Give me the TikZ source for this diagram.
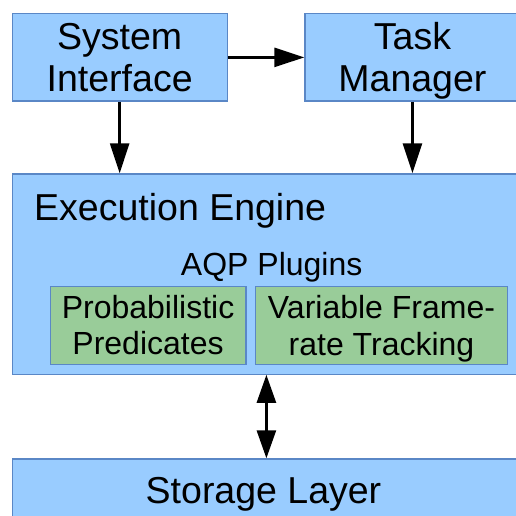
\documentclass[tikz,border=0pt]{standalone}
\usepackage{fontspec}
\setmainfont{Liberation Sans}
\usetikzlibrary{arrows.meta}
\definecolor{boxblue}{HTML}{99CCFF}
\definecolor{boxgreen}{HTML}{99CC99}
\definecolor{edgeblue}{HTML}{5A87C6}
\begin{document}
\begin{tikzpicture}[x=1pt,y=-1pt,
  box/.style={draw=edgeblue, line width=1.3pt, fill=boxblue, inner sep=0pt, anchor=north west, align=center},
  plug/.style={box, fill=boxgreen},
  big/.style={font=\fontsize{37.5pt}{42pt}\selectfont},
  small/.style={font=\fontsize{32pt}{36.7pt}\selectfont},
  arr/.style={line width=2.7pt, -{Triangle[length=30pt,width=19pt]}},
  darr/.style={line width=2.7pt, {Triangle[length=28pt,width=19pt]}-{Triangle[length=28pt,width=19pt]}}]
\useasboundingbox (0,0) rectangle (516,516);
\clip (0,0) rectangle (516,516);
\fill[white] (0,0) rectangle (516,516);
\node[box,big,minimum width=215pt,minimum height=87.5pt] (si) at (11.5,13) {System\\Interface};
\node[box,big,minimum width=215pt,minimum height=87.5pt] (tm) at (304.3,13) {Task\\\smash{Manager}};
\node[box,minimum width=508.5pt,minimum height=200.2pt] (eng) at (11.5,173.3) {};
\node[big,anchor=base west,inner sep=0pt] (eet) at (34,220) {Execution Engine};
\node[small,anchor=base,inner sep=0pt] (aqp) at (271.7,275.5) {AQP Plugins};
\node[plug,small,minimum width=195.8pt,minimum height=78pt] (pl1) at (49.5,285.5) {Probabilistic\\Predicates};
\node[plug,small,minimum width=251.7pt,minimum height=78pt] (pl2) at (255,285.5) {Variable Frame-\\\smash{rate Tracking}};
\node[box,minimum width=508.5pt,minimum height=90pt] (sto) at (11.5,458.3) {};
\node[big,anchor=base,inner sep=0pt] (stot) at (263.5,503.3) {Storage Layer};
\draw[arr] (si.south) -- (si.south |- eng.north);
\draw[arr] (tm.south) -- (tm.south |- eng.north);
\draw[arr] (si.east) -- (tm.west);
\draw[darr] (eng.south) -- (sto.north);
\end{tikzpicture}
\end{document}
